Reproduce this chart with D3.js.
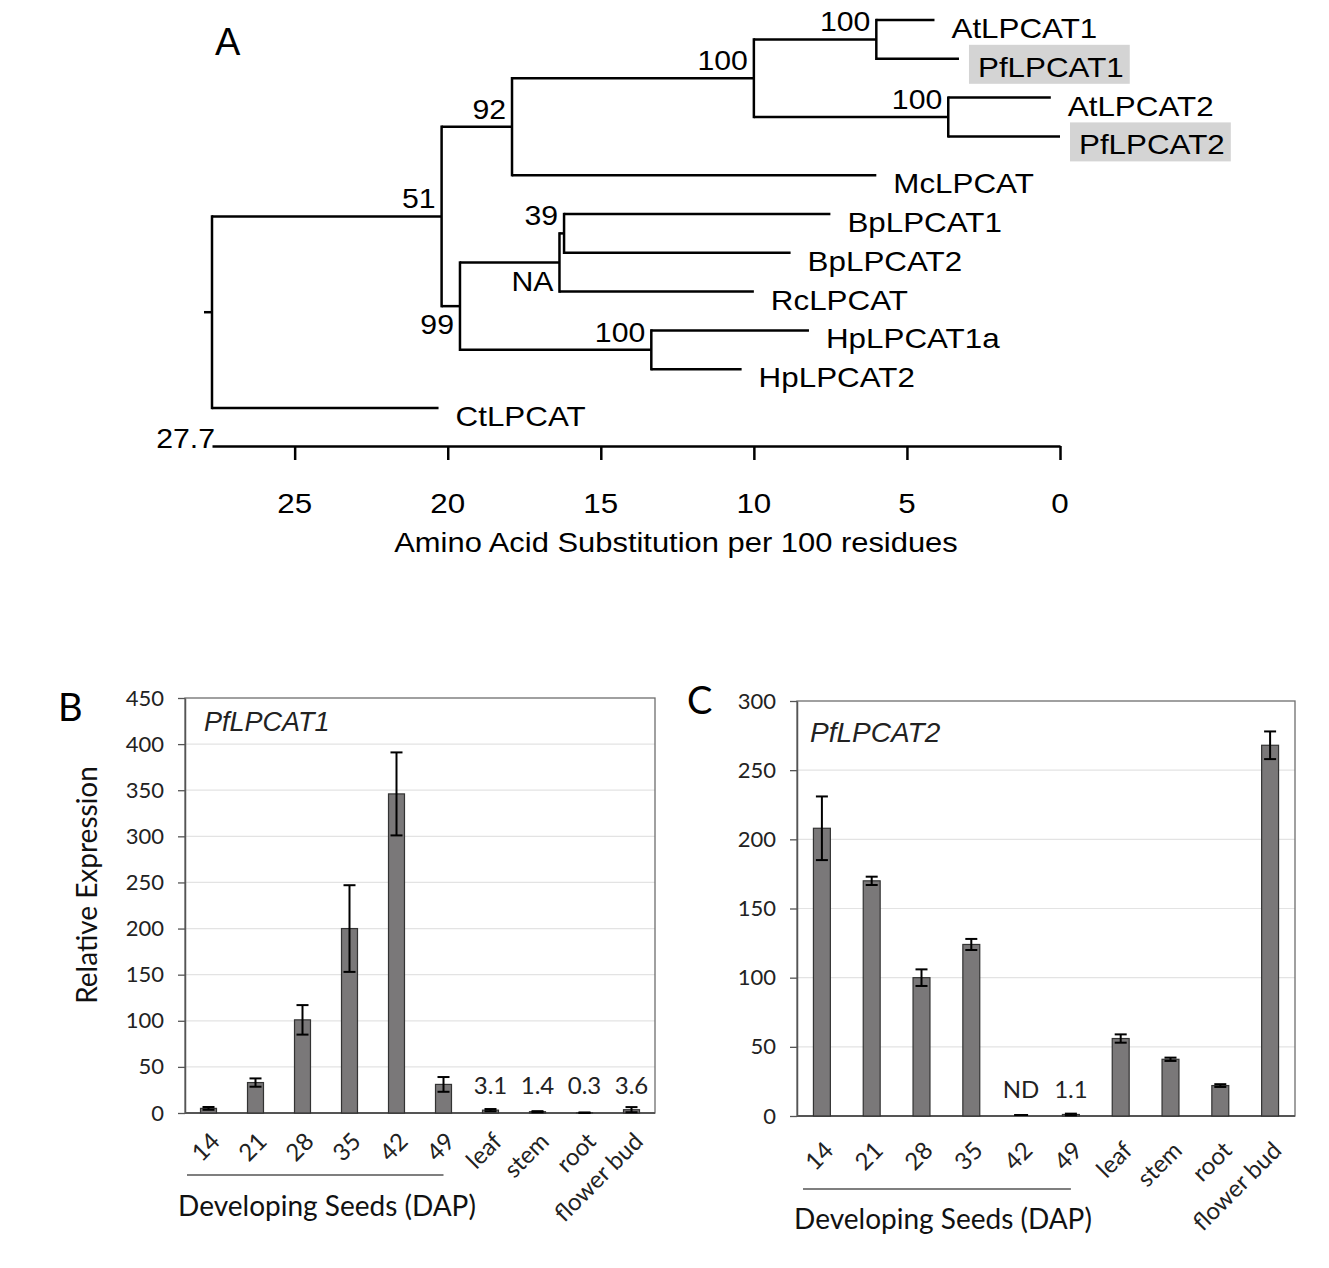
<!DOCTYPE html>
<html>
<head>
<meta charset="utf-8">
<script src="https://cdn.jsdelivr.net/npm/d3@7"></script>
<style>
  html, body { margin: 0; padding: 0; background: #ffffff; }
  svg { display: block; }
</style>
</head>
<body>
<svg id="chart" width="1329" height="1268"></svg>
<script>
// ---------- Panel A: phylogenetic tree ----------
const tipNames = ["AtLPCAT1","PfLPCAT1","AtLPCAT2","PfLPCAT2","McLPCAT","BpLPCAT1","BpLPCAT2","RcLPCAT","HpLPCAT1a","HpLPCAT2","CtLPCAT"];
const tipDist  = [4.1, 3.3, 0.3, 0.0, 6.0, 7.5, 8.8, 10.0, 8.2, 10.4, 20.3];
const highlightedTips = ["PfLPCAT1","PfLPCAT2"];

const nodeIds      = ["nAtPf1","nAtPf2","nLPCAT","n92","n39","nNA","nHp","n99","n51","root"];
const nodeChildren = [["AtLPCAT1","PfLPCAT1"],["AtLPCAT2","PfLPCAT2"],["nAtPf1","nAtPf2"],["nLPCAT","McLPCAT"],
                      ["BpLPCAT1","BpLPCAT2"],["n39","RcLPCAT"],["HpLPCAT1a","HpLPCAT2"],["nNA","nHp"],["n92","n99"],["n51","CtLPCAT"]];
const nodeDist     = [6.0, 3.65, 10.0, 17.9, 16.2, 16.35, 13.35, 19.6, 20.2, 27.7];
const nodeSupport  = ["100","100","100","92","39","NA","100","99","51",""];
const supportBelow = ["NA","99"];

const treeAxisTicks = [25, 20, 15, 10, 5, 0];
const treeRootLabel = "27.7";
const treeAxisTitle = "Amino Acid Substitution per 100 residues";

// ---------- Panels B / C: bar charts ----------
const tissues = ["14","21","28","35","42","49","leaf","stem","root","flower bud"];
const seedGroup = ["14","21","28","35","42","49"];

const pf1Values = [5, 33, 101, 200, 346, 31, 3.1, 1.4, 0.3, 3.6];
const pf1Errors = [1.5, 4.5, 16, 47, 45, 8, 1.2, 0.6, 0.3, 2.8];
const pf1Notes  = ["","","","","","","3.1","1.4","0.3","3.6"];
const pf1Ticks  = [0,50,100,150,200,250,300,350,400,450];

const pf2Values = [208, 170, 100, 124, 0, 1.1, 56, 41, 22, 268];
const pf2Errors = [23, 3, 6, 4, 0, 0.6, 3, 1.2, 1, 10];
const pf2Notes  = ["","","","","ND","1.1","","","",""];
const pf2Ticks  = [0,50,100,150,200,250,300];

const svg = d3.select("#chart");
const ARIAL = "'Liberation Sans', Arial, Helvetica, sans-serif";
const CAL = "Lato, 'Open Sans', sans-serif";
const SX = 1.12; // horizontal stretch of the tree's lettering

function treeText(parent, x, y, str, size, anchor) {
  return parent.append("text")
    .attr("transform", `translate(${x},${y}) scale(${SX},1)`)
    .attr("text-anchor", anchor || "start")
    .attr("font-family", ARIAL).attr("font-size", size).attr("fill", "#000")
    .text(str);
}

// ===== Tree =====
const tx = d3.scaleLinear().domain([27.7, 0]).range([212, 1060]);
const ty = d3.scalePoint().domain(tipNames).range([20, 408]);

const pos = {};
tipNames.forEach((n, i) => { pos[n] = { x: tx(tipDist[i]), y: ty(n) }; });
nodeIds.forEach((id, i) => {
  const ys = nodeChildren[i].map(c => pos[c].y);
  pos[id] = { x: tx(nodeDist[i]), y: d3.mean(ys), ymin: d3.min(ys), ymax: d3.max(ys) };
});

const gTree = svg.append("g").attr("stroke", "#000").attr("stroke-width", 2.5).attr("fill", "none");
nodeIds.forEach((id, i) => {
  const p = pos[id];
  gTree.append("line").attr("x1", p.x).attr("x2", p.x).attr("y1", p.ymin - 1.2).attr("y2", p.ymax + 1.2);
  nodeChildren[i].forEach(c => {
    gTree.append("line").attr("x1", p.x).attr("x2", pos[c].x).attr("y1", pos[c].y).attr("y2", pos[c].y);
  });
});
gTree.append("line").attr("x1", pos.root.x - 8).attr("x2", pos.root.x).attr("y1", pos.root.y).attr("y2", pos.root.y);

// support values
nodeIds.forEach((id, i) => {
  if (!nodeSupport[i]) return;
  const p = pos[id];
  const below = supportBelow.includes(nodeSupport[i]);
  treeText(svg, p.x - 6, below ? p.y + 28 : p.y - 8, nodeSupport[i], 27, "end");
});

// tip labels
tipNames.forEach((n) => {
  const p = pos[n];
  const hl = highlightedTips.includes(n);
  const g = svg.append("g");
  const lx = p.x + (hl ? 19 : 17);
  const t = treeText(g, lx, p.y + 18, n, 28, "start");
  if (hl) {
    const bb = t.node().getBBox();
    g.insert("rect", "text")
      .attr("x", lx - 9).attr("y", p.y - 14)
      .attr("width", bb.width * SX + 15).attr("height", 39)
      .attr("fill", "#d4d4d4");
  }
});

// tree scale axis
const axA = svg.append("g").attr("transform", "translate(0,446)")
  .call(d3.axisBottom(tx).tickValues(treeAxisTicks).tickSize(14).tickSizeOuter(0).tickFormat(""));
axA.select(".domain").attr("stroke", "#000").attr("stroke-width", 2.5);
axA.selectAll(".tick line").attr("stroke", "#000").attr("stroke-width", 2.5);
treeAxisTicks.forEach(v => treeText(svg, tx(v), 513, String(v), 28, "middle"));
treeText(svg, 215, 448, treeRootLabel, 27, "end");
treeText(svg, 676, 552, treeAxisTitle, 27.6, "middle");
svg.append("text").attr("x", 215).attr("y", 55)
  .attr("font-family", ARIAL).attr("font-size", 38).text("A");

// ===== Bar panel builder =====
function barPanel(cfg) {
  const x = d3.scaleBand().domain(tissues).range([cfg.left, cfg.right]).paddingInner(0.66).paddingOuter(0.33);
  const y = d3.scaleLinear().domain([0, cfg.max]).range([cfg.bottom, cfg.top]);
  const g = svg.append("g");

  g.append("g").selectAll("line").data(cfg.ticks.filter(d => d > 0 && d < cfg.max)).join("line")
    .attr("x1", cfg.left).attr("x2", cfg.right)
    .attr("y1", d => y(d)).attr("y2", d => y(d))
    .attr("stroke", "#e3e3e3").attr("stroke-width", 1.2);

  g.append("rect").attr("x", cfg.left).attr("y", cfg.top)
    .attr("width", cfg.right - cfg.left).attr("height", cfg.bottom - cfg.top)
    .attr("fill", "none").attr("stroke", "#6e6e6e").attr("stroke-width", 1.3);

  const ay = g.append("g").attr("transform", `translate(${cfg.left},0)`)
    .call(d3.axisLeft(y).tickValues(cfg.ticks).tickSize(7).tickSizeOuter(0).tickPadding(14));
  ay.select(".domain").attr("stroke", "#555").attr("stroke-width", 1.5);
  ay.selectAll(".tick line").attr("stroke", "#555").attr("stroke-width", 1.3);
  ay.selectAll(".tick text").attr("font-family", CAL).attr("font-size", 22).attr("fill", "#222");

  g.append("line").attr("x1", cfg.left).attr("x2", cfg.right).attr("y1", cfg.bottom).attr("y2", cfg.bottom)
    .attr("stroke", "#555").attr("stroke-width", 1.8);

  g.append("g").selectAll("rect").data(cfg.values).join("rect")
    .attr("x", (d, i) => x(tissues[i]))
    .attr("y", d => y(d))
    .attr("width", x.bandwidth())
    .attr("height", d => Math.max(0, cfg.bottom - y(d)))
    .attr("fill", "#7a7879").attr("stroke", "#333").attr("stroke-width", 1.2);

  const eg = g.append("g").attr("stroke", "#000").attr("stroke-width", 2);
  cfg.values.forEach((v, i) => {
    const e = cfg.errors[i];
    if (!e) return;
    const cx = x(tissues[i]) + x.bandwidth() / 2;
    eg.append("line").attr("x1", cx).attr("x2", cx).attr("y1", y(v + e)).attr("y2", y(Math.max(0, v - e)));
    eg.append("line").attr("x1", cx - 6).attr("x2", cx + 6).attr("y1", y(v + e)).attr("y2", y(v + e));
    eg.append("line").attr("x1", cx - 6).attr("x2", cx + 6).attr("y1", y(Math.max(0, v - e))).attr("y2", y(Math.max(0, v - e)));
  });
  cfg.values.forEach((v, i) => {
    if (v === 0) {
      const cx = x(tissues[i]) + x.bandwidth() / 2;
      g.append("line").attr("x1", cx - 7).attr("x2", cx + 7).attr("y1", cfg.bottom - 1).attr("y2", cfg.bottom - 1)
        .attr("stroke", "#000").attr("stroke-width", 2);
    }
  });

  cfg.notes.forEach((n, i) => {
    if (!n) return;
    g.append("text").attr("x", x(tissues[i]) + x.bandwidth() / 2).attr("y", cfg.noteY)
      .attr("text-anchor", "middle").attr("font-family", CAL).attr("font-size", 24).attr("fill", "#222")
      .text(n);
  });

  tissues.forEach((t) => {
    const cx = x(t) + x.bandwidth() / 2;
    g.append("text")
      .attr("transform", `translate(${cx + 7},${cfg.bottom + cfg.labelOff}) rotate(-45)`)
      .attr("text-anchor", "end").attr("dy", "0.35em")
      .attr("font-family", CAL).attr("font-size", 24).attr("fill", "#222")
      .text(t);
  });

  const x0 = cfg.left + cfg.lineStart;
  const x1 = x(seedGroup[seedGroup.length - 1]) + x.bandwidth() / 2;
  g.append("line").attr("x1", x0).attr("x2", x1).attr("y1", cfg.lineY).attr("y2", cfg.lineY)
    .attr("stroke", "#000").attr("stroke-width", 1.2);
  g.append("text").attr("x", cfg.seedX).attr("y", cfg.seedY).attr("text-anchor", "middle")
    .attr("font-family", CAL).attr("font-size", 28).attr("fill", "#111")
    .text("Developing Seeds (DAP)");

  g.append("text").attr("x", cfg.titleX).attr("y", cfg.titleY)
    .attr("font-family", ARIAL).attr("font-style", "italic").attr("font-size", cfg.titleSize).attr("fill", "#222")
    .text(cfg.title);

  g.append("text").attr("x", cfg.letterX).attr("y", cfg.letterY)
    .attr("font-family", CAL).attr("font-size", 38).attr("fill", "#000")
    .text(cfg.letter);
}

barPanel({
  left: 185, right: 655, top: 698, bottom: 1113, max: 450, ticks: pf1Ticks,
  values: pf1Values, errors: pf1Errors, notes: pf1Notes, noteY: 1094,
  labelOff: 24, lineStart: 2, lineY: 1175, seedX: 327, seedY: 1216,
  title: "PfLPCAT1", titleX: 204, titleY: 731, titleSize: 27,
  letter: "B", letterX: 58, letterY: 721
});
barPanel({
  left: 797, right: 1295, top: 701, bottom: 1116, max: 300, ticks: pf2Ticks,
  values: pf2Values, errors: pf2Errors, notes: pf2Notes, noteY: 1098,
  labelOff: 30, lineStart: 6, lineY: 1189, seedX: 943, seedY: 1229,
  title: "PfLPCAT2", titleX: 810, titleY: 742, titleSize: 28,
  letter: "C", letterX: 687, letterY: 714
});

svg.append("text").attr("transform", "translate(97,885) rotate(-90)")
  .attr("text-anchor", "middle").attr("font-family", CAL).attr("font-size", 28).attr("fill", "#111")
  .text("Relative Expression");
</script>
</body>
</html>
